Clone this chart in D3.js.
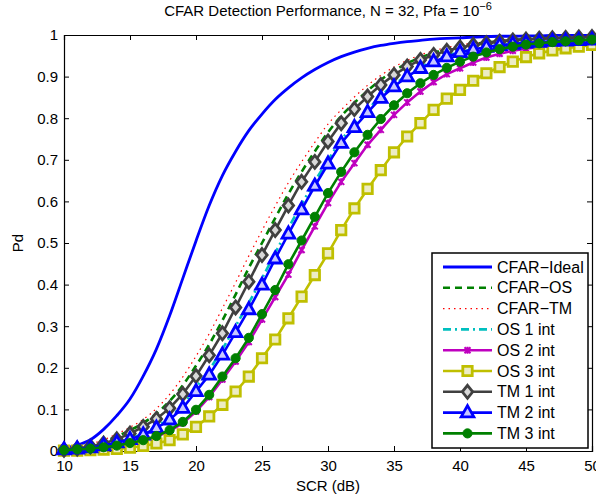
<!DOCTYPE html>
<html>
<head>
<meta charset="utf-8">
<script src="https://cdn.jsdelivr.net/npm/d3@7"></script>
<style>
	body { margin: 0; background: #fff; }
	text { font-family: "Liberation Sans", Arial, Helvetica, sans-serif; fill: #000; }
	.axis path, .axis line { stroke: #000; }
</style>
</head>
<body>
<div id="chart-area"></div>
<script>

// SCR values (dB), one point per dB
let scr = d3.range(10, 51);

let xTicks = [10, 15, 20, 25, 30, 35, 40, 45, 50];
let yTicks = [0, 0.1, 0.2, 0.3, 0.4, 0.5, 0.6, 0.7, 0.8, 0.9, 1];

// Pd, SCR = 10 ... 50
let cfarIdeal = [0.007, 0.014, 0.027, 0.052, 0.085, 0.125, 0.18, 0.245, 0.325, 0.415,
	0.505, 0.59, 0.662, 0.72, 0.77, 0.81, 0.845, 0.873, 0.897, 0.917,
	0.934, 0.948, 0.959, 0.968, 0.975, 0.98, 0.984, 0.987, 0.99, 0.992,
	0.993, 0.995, 0.996, 0.997, 0.997, 0.998, 0.998, 0.999, 0.999, 0.999, 0.999];

let cfarOS = [0.004, 0.008, 0.014, 0.023, 0.035, 0.05, 0.067, 0.09, 0.12, 0.158,
	0.205, 0.256, 0.314, 0.376, 0.44, 0.5, 0.56, 0.618, 0.671, 0.72,
	0.766, 0.805, 0.837, 0.866, 0.892, 0.914, 0.932, 0.946, 0.957, 0.966,
	0.973, 0.978, 0.982, 0.985, 0.988, 0.99, 0.991, 0.993, 0.994, 0.994, 0.995];

let cfarTM = [0.005, 0.01, 0.017, 0.027, 0.041, 0.057, 0.076, 0.102, 0.136, 0.178,
	0.228, 0.282, 0.343, 0.405, 0.469, 0.53, 0.589, 0.645, 0.695, 0.742,
	0.786, 0.82, 0.851, 0.879, 0.903, 0.923, 0.939, 0.952, 0.962, 0.97,
	0.976, 0.98, 0.984, 0.987, 0.989, 0.991, 0.992, 0.993, 0.994, 0.995, 0.995];

let os1 = [0.003, 0.005, 0.009, 0.014, 0.021, 0.03, 0.042, 0.059, 0.081, 0.111,
	0.153, 0.195, 0.245, 0.3, 0.356, 0.415, 0.476, 0.536, 0.593, 0.648,
	0.699, 0.747, 0.785, 0.82, 0.853, 0.88, 0.903, 0.922, 0.938, 0.95,
	0.959, 0.966, 0.972, 0.976, 0.979, 0.982, 0.984, 0.985, 0.986, 0.987, 0.988];

let os2 = [0.002, 0.003, 0.005, 0.008, 0.012, 0.017, 0.024, 0.034, 0.048, 0.067,
	0.095, 0.13, 0.172, 0.215, 0.262, 0.316, 0.37, 0.424, 0.483, 0.54,
	0.596, 0.647, 0.692, 0.736, 0.772, 0.808, 0.838, 0.864, 0.887, 0.906,
	0.92, 0.934, 0.946, 0.955, 0.962, 0.967, 0.971, 0.975, 0.978, 0.98, 0.982];

let os3 = [0.001, 0.001, 0.002, 0.003, 0.005, 0.008, 0.012, 0.018, 0.026, 0.04,
	0.058, 0.083, 0.111, 0.143, 0.179, 0.223, 0.268, 0.319, 0.371, 0.423,
	0.475, 0.531, 0.583, 0.63, 0.675, 0.718, 0.756, 0.788, 0.82, 0.847,
	0.868, 0.89, 0.908, 0.923, 0.936, 0.947, 0.956, 0.963, 0.968, 0.972, 0.976];

let tm1 = [0.003, 0.006, 0.011, 0.018, 0.028, 0.042, 0.058, 0.077, 0.103, 0.137,
	0.18, 0.23, 0.283, 0.345, 0.407, 0.471, 0.531, 0.59, 0.647, 0.695,
	0.744, 0.788, 0.822, 0.852, 0.88, 0.904, 0.924, 0.94, 0.952, 0.962,
	0.97, 0.976, 0.98, 0.984, 0.987, 0.989, 0.991, 0.992, 0.993, 0.994, 0.995];

let tm2 = [0.003, 0.005, 0.008, 0.013, 0.02, 0.028, 0.039, 0.055, 0.075, 0.103,
	0.143, 0.183, 0.231, 0.285, 0.34, 0.399, 0.462, 0.522, 0.58, 0.637,
	0.69, 0.74, 0.778, 0.814, 0.848, 0.876, 0.9, 0.92, 0.936, 0.948,
	0.958, 0.965, 0.971, 0.975, 0.978, 0.981, 0.983, 0.985, 0.986, 0.987, 0.988];

let tm3 = [0.002, 0.004, 0.006, 0.009, 0.013, 0.019, 0.026, 0.036, 0.05, 0.07,
	0.099, 0.135, 0.179, 0.223, 0.272, 0.329, 0.387, 0.449, 0.506, 0.563,
	0.62, 0.671, 0.718, 0.76, 0.798, 0.831, 0.86, 0.884, 0.904, 0.921,
	0.936, 0.948, 0.958, 0.966, 0.972, 0.977, 0.98, 0.983, 0.985, 0.987, 0.989];

let seriesNames = ["CFAR\u2212Ideal", "CFAR\u2212OS", "CFAR\u2212TM", "OS 1 int", "OS 2 int",
	"OS 3 int", "TM 1 int", "TM 2 int", "TM 3 int"];
let seriesValues = [cfarIdeal, cfarOS, cfarTM, os1, os2, os3, tm1, tm2, tm3];


// line and marker style of each series, same order as above
let styles = [
	{color: "#0000ff", width: 2.8, dash: null, marker: null},
	{color: "#008000", width: 2.6, dash: "7,5", marker: null},
	{color: "#ff0000", width: 1.2, dash: "1.5,4", marker: null},
	{color: "#00bfbf", width: 2.6, dash: "8,4,2,4", marker: null},
	{color: "#bf00bf", width: 2.6, dash: null, marker: "x"},
	{color: "#bfbf00", width: 2.6, dash: null, marker: "square"},
	{color: "#404040", width: 2.6, dash: null, marker: "diamond"},
	{color: "#0000ff", width: 2.6, dash: null, marker: "triangle"},
	{color: "#008000", width: 2.6, dash: null, marker: "circle"}
];

function markerPath(type) {
	if (type === "diamond") return "M0,-6.5L5.2,0L0,6.5L-5.2,0Z";
	if (type === "triangle") return "M0,-7L6.3,4.2L-6.3,4.2Z";
	if (type === "square") return "M-4.7,-4.7L4.7,-4.7L4.7,4.7L-4.7,4.7Z";
	if (type === "circle") return d3.symbol().type(d3.symbolCircle).size(66)();
	if (type === "x") return "M-3,-3L3,3M-3,3L3,-3M0,-3.5L0,3.5";
	return "";
}

function markerFill(s) {
	if (s.marker === "circle") return s.color;
	if (s.marker === "x") return "none";
	if (s.marker === "square") return "#ececc4";
	if (s.marker === "diamond") return "#d8d8d8";
	return "#c8c8ff";
}

function markerStroke(s) {
	if (s.marker === "circle") return 1;
	if (s.marker === "x") return 2;
	return 2.8;
}


class DetectionChart {

	constructor(parentElement) {
		this.parentElement = parentElement;
		this.initVis();
	}

	initVis() {
		let vis = this;

		vis.margin = {top: 35, right: 4, bottom: 44, left: 64};
		vis.width = 596 - vis.margin.left - vis.margin.right;
		vis.height = 495 - vis.margin.top - vis.margin.bottom;

		vis.svg = d3.select("#" + vis.parentElement).append("svg")
			.attr("width", 596)
			.attr("height", 495)
			.append("g")
			.attr("transform", "translate(" + vis.margin.left + "," + vis.margin.top + ")");

		// Scales and axes
		vis.x = d3.scaleLinear().domain([10, 50]).range([0, vis.width]);
		vis.y = d3.scaleLinear().domain([0, 1]).range([vis.height, 0]);

		vis.xAxis = d3.axisBottom(vis.x).tickValues(xTicks).tickSize(-5).tickPadding(9).tickFormat(d3.format("d"));
		vis.yAxis = d3.axisLeft(vis.y).tickValues(yTicks).tickSize(-5).tickPadding(6).tickFormat(d => d);

		vis.svg.append("g")
			.attr("class", "x-axis axis")
			.attr("transform", "translate(0," + vis.height + ")")
			.call(vis.xAxis);

		vis.svg.append("g")
			.attr("class", "y-axis axis")
			.call(vis.yAxis);

		// ticks on the opposite sides (box)
		vis.svg.append("g")
			.attr("class", "axis")
			.call(d3.axisTop(vis.x).tickValues(xTicks).tickSize(-5).tickFormat(""));
		vis.svg.append("g")
			.attr("class", "axis")
			.attr("transform", "translate(" + vis.width + ",0)")
			.call(d3.axisRight(vis.y).tickValues(yTicks).tickSize(-5).tickFormat(""));

		vis.svg.selectAll(".axis path").attr("stroke-width", 1.2);
		vis.svg.selectAll(".axis text").attr("font-size", 15);

		// Labels
		let title = vis.svg.append("text")
			.attr("x", vis.width / 2)
			.attr("y", -19)
			.attr("text-anchor", "middle")
			.attr("font-size", 15);
		title.append("tspan").text("CFAR Detection Performance, N = 32, Pfa = 10");
		title.append("tspan").attr("dy", -6).attr("font-size", 11).text("\u22126");

		vis.svg.append("text")
			.attr("x", vis.width / 2)
			.attr("y", vis.height + 40)
			.attr("text-anchor", "middle")
			.attr("font-size", 15)
			.text("SCR (dB)");

		vis.svg.append("text")
			.attr("transform", "translate(-41," + (vis.height / 2) + ") rotate(-90)")
			.attr("text-anchor", "middle")
			.attr("font-size", 15)
			.text("Pd");

		vis.line = d3.line()
			.x((d, i) => vis.x(scr[i]))
			.y(d => vis.y(d));

		vis.smoothLine = d3.line()
			.x((d, i) => vis.x(scr[i]))
			.y(d => vis.y(d))
			.curve(d3.curveMonotoneX);

		vis.updateVis();
	}

	updateVis() {
		let vis = this;

		seriesValues.forEach((values, k) => {
			let s = styles[k];
			let g = vis.svg.append("g").attr("class", "series");

			g.append("path")
				.datum(values)
				.attr("fill", "none")
				.attr("stroke", s.color)
				.attr("stroke-width", s.width)
				.attr("stroke-dasharray", s.dash)
				.attr("d", s.marker ? vis.line : vis.smoothLine);

			if (s.marker) {
				g.selectAll(".marker")
					.data(values)
					.enter().append("path")
					.attr("class", "marker")
					.attr("transform", (d, i) => "translate(" + vis.x(scr[i]) + "," + vis.y(d) + ")")
					.attr("d", markerPath(s.marker))
					.attr("fill", markerFill(s))
					.attr("stroke", s.color)
					.attr("stroke-width", markerStroke(s));
			}
		});

		// Legend
		let legend = vis.svg.append("g")
			.attr("transform", "translate(" + (432 - vis.margin.left) + "," + (253 - vis.margin.top) + ")");

		legend.append("rect")
			.attr("width", 156)
			.attr("height", 195)
			.attr("fill", "#fff")
			.attr("stroke", "#000")
			.attr("stroke-width", 1.5);

		seriesNames.forEach((name, k) => {
			let s = styles[k];
			let yy = 14 + k * 20.8;

			legend.append("line")
				.attr("x1", 11).attr("x2", 60)
				.attr("y1", yy).attr("y2", yy)
				.attr("stroke", s.color)
				.attr("stroke-width", s.width)
				.attr("stroke-dasharray", s.dash);

			if (s.marker) {
				legend.append("path")
					.attr("transform", "translate(35.5," + yy + ")")
					.attr("d", markerPath(s.marker))
					.attr("fill", markerFill(s))
					.attr("stroke", s.color)
					.attr("stroke-width", markerStroke(s));
			}

			legend.append("text")
				.attr("x", 65)
				.attr("y", yy + 5.5)
				.attr("font-size", 16)
				.text(name);
		});
	}
}

new DetectionChart("chart-area");

</script>
</body>
</html>
